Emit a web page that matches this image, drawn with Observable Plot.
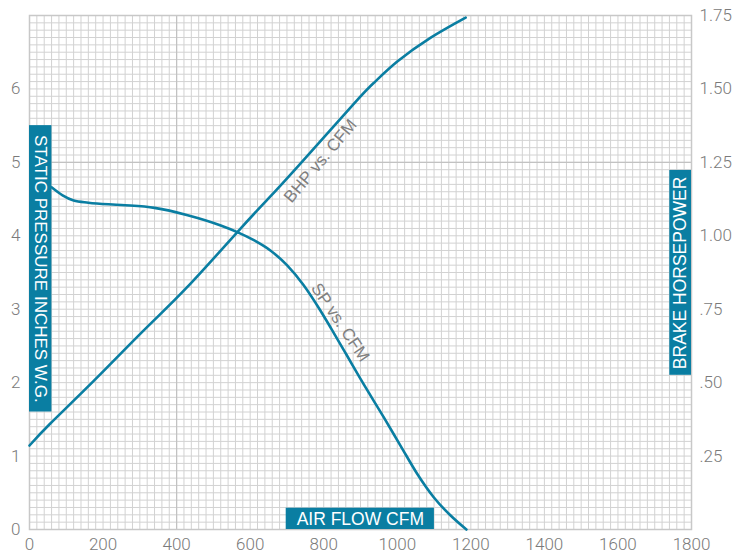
<!DOCTYPE html>
<html>
<head>
<meta charset="utf-8">
<script src="https://cdn.jsdelivr.net/npm/d3@7"></script>
<script src="https://cdn.jsdelivr.net/npm/@observablehq/plot@0.6"></script>
<style>
  html, body { margin: 0; padding: 0; background: #fff; }
  #chart { width: 747px; height: 557px; }
</style>
</head>
<body>
<div id="chart"></div>
<script>
// ---- data ----
const spCfm = [60, 90, 120, 160, 250, 340, 430, 520, 565, 610, 655, 700, 745, 790, 820, 862, 900, 963, 1009, 1054, 1099, 1145, 1188];
const spVals = [4.66, 4.55, 4.48, 4.45, 4.42, 4.38, 4.28, 4.14, 4.05, 3.94, 3.80, 3.60, 3.33, 2.99, 2.74, 2.38, 2.05, 1.53, 1.14, 0.76, 0.44, 0.19, 0.0];
const bhpCfm = [0, 56, 174, 310, 428, 564, 646, 736, 886, 940, 1000, 1090, 1186];
const bhpVals = [0.286, 0.36, 0.505, 0.677, 0.824, 1.011, 1.122, 1.245, 1.455, 1.525, 1.593, 1.674, 1.743];
const xTicks = [0, 200, 400, 600, 800, 1000, 1200, 1400, 1600, 1800];
const spTicks = [0, 1, 2, 3, 4, 5, 6];
const bhpTicks = [0.25, 0.5, 0.75, 1.0, 1.25, 1.5, 1.75];
const bhpTickLabels = [".25", ".50", ".75", "1.00", "1.25", "1.50", "1.75"];

const SP_MAX = 7, BHP_MAX = 1.75, K = SP_MAX / BHP_MAX;
const teal = "#0a7ea2";
const tickFont = "Roboto, 'Liberation Sans', sans-serif";
const labelFont = "'Liberation Sans', Arial, sans-serif";

const spData = spCfm.map((c, i) => ({cfm: c, v: spVals[i]}));
const bhpData = bhpCfm.map((c, i) => ({cfm: c, v: bhpVals[i] * K}));
const rightTicks = bhpTicks.map((b, i) => ({y: b * K, label: bhpTickLabels[i]}));

const minorX = d3.range(0, 1801, 20);
const minorY = d3.range(0, 70.5, 1).map(d => d / 10);

const chart = Plot.plot({
  width: 747,
  height: 557,
  marginLeft: 29,
  marginRight: 56,
  marginTop: 15,
  marginBottom: 28,
  style: {fontFamily: tickFont, background: "#fff"},
  x: {domain: [0, 1800]},
  y: {domain: [0, SP_MAX]},
  marks: [
    Plot.ruleX(minorX, {stroke: "#d2d2d2", strokeWidth: 1}),
    Plot.ruleY(minorY, {stroke: "#d2d2d2", strokeWidth: 1}),
    Plot.ruleX([400], {stroke: "#c2c2c2", strokeWidth: 1.2}),
    Plot.ruleY([5], {stroke: "#c2c2c2", strokeWidth: 1.2}),
    Plot.frame({stroke: "#c8c8c8", strokeWidth: 1.5}),
    Plot.axisX({ticks: xTicks, tickFormat: d => String(d), tickSize: 0, tickPadding: 8, fontSize: 17, fill: "#7a7a7a", fontWeight: 300, label: null}),
    Plot.axisY({ticks: spTicks, tickFormat: d => String(d), tickSize: 0, tickPadding: 9, fontSize: 17, fill: "#7a7a7a", fontWeight: 300, label: null}),
    Plot.text(rightTicks, {x: 1800, y: "y", text: "label", dx: 8, textAnchor: "start", fontSize: 17, fill: "#7a7a7a", fontWeight: 300}),
    Plot.line(bhpData, {x: "cfm", y: "v", stroke: teal, strokeWidth: 2.6, curve: "natural"}),
    Plot.line(spData, {x: "cfm", y: "v", stroke: teal, strokeWidth: 2.6, curve: "monotone-x"}),
    Plot.text(["BHP vs. CFM"], {x: 791, y: 5.02, rotate: -50, fontSize: 17, fill: "#808080", fontFamily: labelFont}),
    Plot.text(["SP vs. CFM"], {x: 845, y: 2.82, rotate: 56, fontSize: 17, fill: "#808080", fontFamily: labelFont}),
    // label boxes
    Plot.rect([{x1: 0, x2: 61, y1: 1.6, y2: 5.5}], {x1: "x1", x2: "x2", y1: "y1", y2: "y2", fill: teal}),
    Plot.rect([{x1: 1741, x2: 1800, y1: 2.10, y2: 4.89}], {x1: "x1", x2: "x2", y1: "y1", y2: "y2", fill: teal}),
    Plot.rect([{x1: 698, x2: 1101, y1: 0, y2: 0.29}], {x1: "x1", x2: "x2", y1: "y1", y2: "y2", fill: teal}),
    Plot.text(["STATIC PRESSURE INCHES W.G."], {x: 30.5, y: 3.55, rotate: 90, fontSize: 17, fill: "#fff", fontFamily: labelFont}),
    Plot.text(["BRAKE HORSEPOWER"], {x: 1770.5, y: 3.495, rotate: -90, fontSize: 17.5, fill: "#fff", fontFamily: labelFont}),
    Plot.text(["AIR FLOW CFM"], {x: 899.5, y: 0.135, fontSize: 17.5, fill: "#fff", fontFamily: labelFont})
  ]
});
document.getElementById("chart").appendChild(chart);
</script>
</body>
</html>
